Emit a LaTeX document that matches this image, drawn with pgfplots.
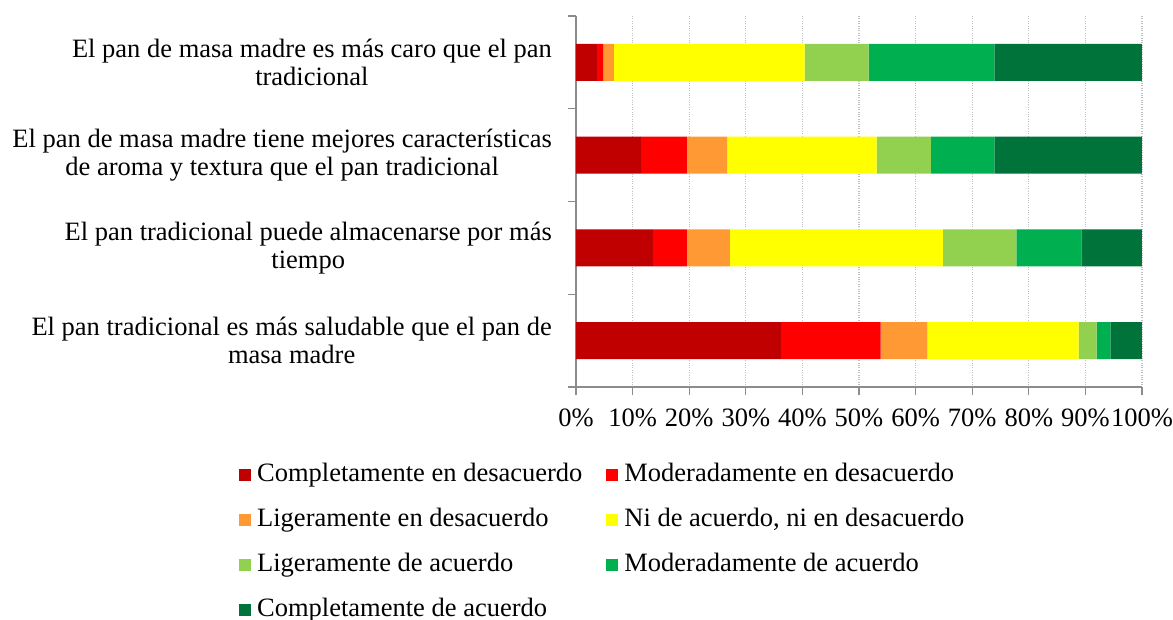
\documentclass[border=0pt]{standalone}
\usepackage{fontspec}
\setmainfont{Liberation Serif}
\usepackage{pgfplots}
\pgfplotsset{compat=1.18}
\definecolor{cCD}{HTML}{C00000}
\definecolor{cMD}{HTML}{FF0000}
\definecolor{cLD}{HTML}{FF9933}
\definecolor{cN}{HTML}{FFFF00}
\definecolor{cLA}{HTML}{92D050}
\definecolor{cMA}{HTML}{00B050}
\definecolor{cCA}{HTML}{00733A}
\definecolor{axgray}{HTML}{8C8C8C}
\definecolor{gridgray}{HTML}{BFBFBF}
\begin{document}
\begin{tikzpicture}[font=\fontsize{26.5bp}{28bp}\selectfont]
\path[use as bounding box] (-576bp,-233bp) rectangle (597bp,387bp);
\begin{axis}[
  at={(0,0)}, anchor=south west,
  scale only axis, width=566bp, height=371bp,
  xbar stacked, bar width=0.4,
  xmin=0, xmax=100, ymin=-0.5, ymax=3.5,
  axis x line*=bottom, axis y line*=left,
  axis line style={draw=axgray, line width=1.2bp, -},
  xtick={0,10,...,100},
  xticklabels={0\%,10\%,20\%,30\%,40\%,50\%,60\%,70\%,80\%,90\%,100\%},
  xmajorgrids, grid style={draw=gridgray, dotted, line width=1.2bp},
  major tick length=8bp, tick align=outside,
  tick style={draw=axgray, line width=1.2bp},
  xticklabel style={inner sep=0pt, yshift=-14bp},
  ytick={-0.5,0.5,1.5,2.5,3.5}, yticklabels={},
  extra y ticks={0,1,2,3},
  extra y tick labels={{El pan tradicional es más saludable que el pan de\\masa madre},{El pan tradicional puede almacenarse por más\\tiempo},{El pan de masa madre tiene mejores características\\de aroma y textura que el pan tradicional},{El pan de masa madre es más caro que el pan\\tradicional}},
  extra y tick style={major tick length=0pt, yticklabel style={align=center, inner sep=0pt, xshift=-24bp}},
  legend columns=2,
  legend style={at={(axis description cs:0,0)}, anchor=north west, xshift=-337bp, yshift=-76bp, draw=none, fill=none, inner sep=0pt,
    nodes={inner sep=0pt, text height=18bp, text depth=6bp, anchor=west},
    row sep=21bp,
    /tikz/every odd column/.append style={column sep=6bp},
    /tikz/every even column/.append style={column sep=24bp}},
  legend cell align=left,
  legend image code/.code={\fill[#1] (0bp,-6bp) rectangle (12bp,6bp);},
]
\addplot[fill=cCD, draw=none] coordinates {(36.2,0) (13.6,1) (11.5,2) (3.7,3)};
\addplot[fill=cMD, draw=none] coordinates {(17.6,0) (6.0,1) (8.1,2) (1.1,3)};
\addplot[fill=cLD, draw=none] coordinates {(8.3,0) (7.6,1) (7.1,2) (1.9,3)};
\addplot[fill=cN, draw=none] coordinates {(26.7,0) (37.6,1) (26.4,2) (33.7,3)};
\addplot[fill=cLA, draw=none] coordinates {(3.2,0) (13.0,1) (9.6,2) (11.3,3)};
\addplot[fill=cMA, draw=none] coordinates {(2.4,0) (11.5,1) (11.2,2) (22.2,3)};
\addplot[fill=cCA, draw=none] coordinates {(5.6,0) (10.7,1) (26.1,2) (26.1,3)};
\legend{Completamente en desacuerdo,Moderadamente en desacuerdo,Ligeramente en desacuerdo,{Ni de acuerdo, ni en desacuerdo},Ligeramente de acuerdo,Moderadamente de acuerdo,Completamente de acuerdo}
\end{axis}
\end{tikzpicture}
\end{document}
